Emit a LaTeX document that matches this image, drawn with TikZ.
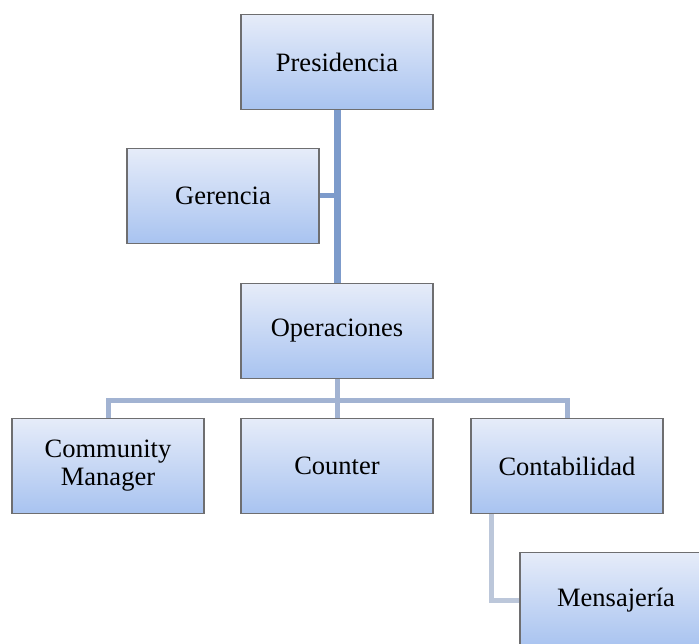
\documentclass[tikz,border=0pt]{standalone}
\usepackage{fontspec}
\setmainfont{Liberation Serif}
\usetikzlibrary{backgrounds}
\begin{document}
\definecolor{boxtop}{HTML}{E6ECF9}
\definecolor{boxbot}{HTML}{A8C3F0}
\definecolor{boxedge}{HTML}{6E6E70}
\definecolor{mainline}{HTML}{7D9BCB}
\definecolor{busline}{HTML}{A2B3D2}
\definecolor{subline}{HTML}{BCC7DA}
\begin{tikzpicture}[x=1pt,y=-1pt,
  unit/.style={draw=boxedge,line width=1.2pt,top color=boxtop,bottom color=boxbot,
    minimum width=192pt,minimum height=95pt,inner sep=0pt,align=center,
    font=\fontsize{26.5}{28}\selectfont},
  trunk/.style={draw=mainline,line width=7pt},
  side/.style={draw=mainline,line width=5pt},
  bus/.style={draw=busline,line width=5pt},
  sub/.style={draw=subline,line width=5pt}]
\useasboundingbox (0,0) rectangle (699,644);

% boxes of the chart
\node[unit] (pres) at (337,62) {Presidencia};
\node[unit] (ger) at (223,196) {Gerencia};
\node[unit] (ops) at (337,331) {Operaciones};
\node[unit] (cm) at (108,466) {Community\\Manager};
\node[unit] (cnt) at (337,466) {Counter};
\node[unit] (ctb) at (567,466) {Contabilidad};
\node[unit] (men) at (616,600) {Mensajería};

% joints of the connector lines
\coordinate (busmid) at (337,400);
\coordinate (subtop) at (491,514);

% connectors, drawn behind the boxes
\begin{scope}[on background layer]
  \draw[trunk] (pres.south) -- (ops.north);
  \draw[side] (ger.east) -- (ger.east -| pres.south);
  \draw[bus] (ops.south) -- (busmid);
  \draw[bus] (cm.north) |- (busmid) -| (ctb.north);
  \draw[bus] (busmid) -- (cnt.north);
  \draw[sub] (subtop) |- (men.west);
\end{scope}
\end{tikzpicture}
\end{document}
